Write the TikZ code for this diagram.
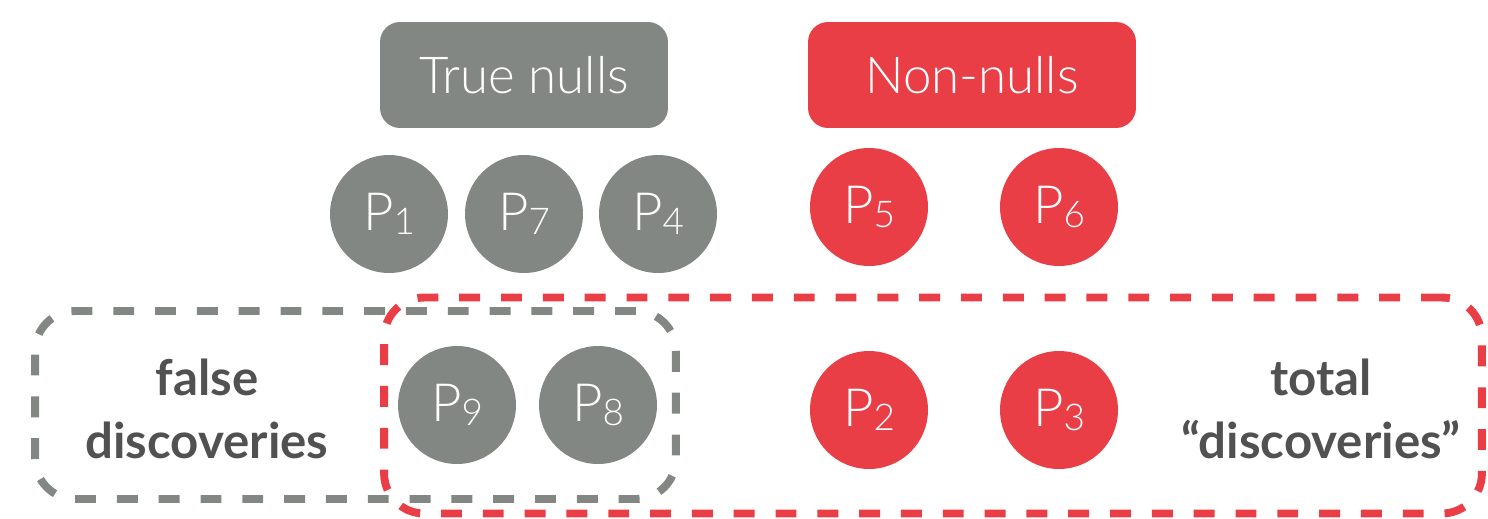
\documentclass[tikz,border=0pt]{standalone}
\usepackage{fontspec}
\setmainfont{Lato}
\newfontfamily\lightfont{Lato Light}
\definecolor{nullgray}{HTML}{828784}
\definecolor{nonred}{HTML}{E93E46}
\definecolor{txtgray}{HTML}{515151}
\newcommand\Psub[1]{P\raisebox{-2.5pt}{\fontsize{21}{21}\selectfont #1}}
\begin{document}
\begin{tikzpicture}[x=0.02cm,y=-0.02cm,
  header/.style={rounded corners=0.4cm, minimum height=2.12cm, text=white,
    font=\lightfont\fontsize{29}{29}\selectfont, inner sep=0pt},
  pval/.style={circle, minimum size=2.36cm, inner sep=0pt, text=white,
    font=\lightfont\fontsize{30}{30}\selectfont},
  gcirc/.style={pval, fill=nullgray},
  rcirc/.style={pval, fill=nonred},
  dbox/.style={draw, line width=4.5pt, dash pattern=on 11.9pt off 11.9pt,
    rounded corners=0.8cm, inner sep=0pt},
  lab/.style={text=txtgray, font=\bfseries\fontsize{28}{35.5}\selectfont, inner sep=0pt}
]
\useasboundingbox (0,0) rectangle (1488,518);
% headers
\node[header, fill=nullgray, minimum width=5.76cm] (tn) at (524,75) {True nulls};
\node[header, fill=nonred, minimum width=6.56cm] (nn) at (972,75) {Non-nulls};
% top row
\node[gcirc] (p1) at (389,214) {\Psub{1}};
\node[gcirc] (p7) at (524,214) {\Psub{7}};
\node[gcirc] (p4) at (658,214) {\Psub{4}};
\node[rcirc] (p5) at (869,207) {\Psub{5}};
\node[rcirc] (p6) at (1059,207) {\Psub{6}};
% bottom row
\node[gcirc] (p9) at (457,405) {\Psub{9}};
\node[gcirc] (p8) at (598,405) {\Psub{8}};
\node[rcirc] (p2) at (869,410) {\Psub{2}};
\node[rcirc] (p3) at (1059,410) {\Psub{3}};
% dashed groups
\node[dbox, draw=nullgray, minimum width=12.82cm, minimum height=3.76cm] (fd) at (355.5,405) {};
\node[dbox, draw=nonred, minimum width=21.96cm, minimum height=4.32cm] (td) at (933,405.5) {};
% labels
\node[lab, align=center] (fdl) at (207,409) {false\\discoveries};
\node[lab, align=center] (tdl) at (1321,409) {total\\``discoveries''};
\end{tikzpicture}
\end{document}
